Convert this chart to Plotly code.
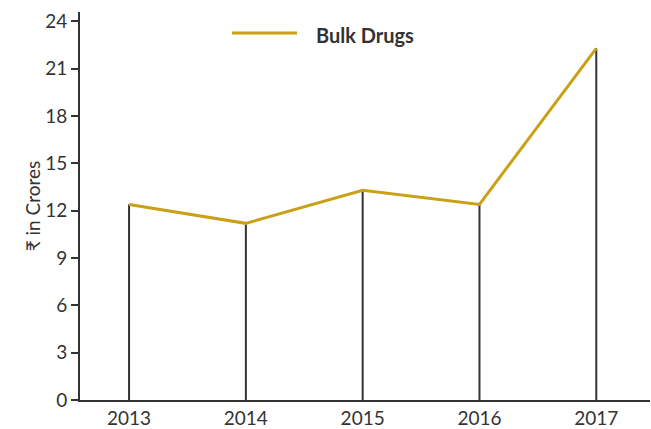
import plotly.graph_objects as go

years = ["2013", "2014", "2015", "2016", "2017"]
bulk_drugs = [12.4, 11.2, 13.3, 12.4, 22.3]
y_ticks = [0, 3, 6, 9, 12, 15, 18, 21, 24]

FONT = "Lato, 'Noto Sans', 'DejaVu Sans', sans-serif"
DARK = "#333333"
GOLD = "#C9A017"

# drop lines
dx, dy = [], []
for i, v in enumerate(bulk_drugs):
    dx += [i, i, None]
    dy += [0, v, None]

fig = go.Figure()
fig.add_trace(go.Scatter(x=dx, y=dy, mode="lines", line=dict(color=DARK, width=2),
                         showlegend=False, hoverinfo="skip"))
fig.add_trace(go.Scatter(x=list(range(len(years))), y=bulk_drugs, mode="lines",
                         name="Bulk Drugs", line=dict(color=GOLD, width=3),
                         showlegend=False))

fig.update_layout(
    width=651, height=429,
    margin=dict(l=80, r=1, t=12, b=29),
    paper_bgcolor="white", plot_bgcolor="white",
    font=dict(family=FONT, size=19, color=DARK),
    xaxis=dict(range=[-0.42, 4.46], tickmode="array", tickvals=list(range(len(years))),
               ticktext=years, showgrid=False, zeroline=False, showline=True,
               linecolor=DARK, linewidth=2, ticks="", tickfont=dict(size=19, color=DARK)),
    yaxis=dict(range=[0, 24.6], tickmode="array", tickvals=y_ticks,
               showgrid=False, zeroline=False, showline=True, linecolor=DARK, linewidth=2,
               ticks="outside", ticklen=7, tickwidth=2, tickcolor=DARK,
               tickfont=dict(size=19, color=DARK),
               title=dict(text="₹ in Crores", font=dict(size=19, color=DARK), standoff=0)),
    shapes=[dict(type="line", xref="paper", yref="paper",
                 x0=(232 - 80) / 570, x1=(297 - 80) / 570,
                 y0=(400 - 33) / 388, y1=(400 - 33) / 388,
                 line=dict(color=GOLD, width=3))],
    annotations=[dict(text="<b>Bulk Drugs</b>", xref="paper", yref="paper",
                      x=(314 - 80) / 570, y=(400 - 35) / 388, xanchor="left", yanchor="middle",
                      showarrow=False, font=dict(size=20, color=DARK, family=FONT))],
)

fig.write_html("out.html")
